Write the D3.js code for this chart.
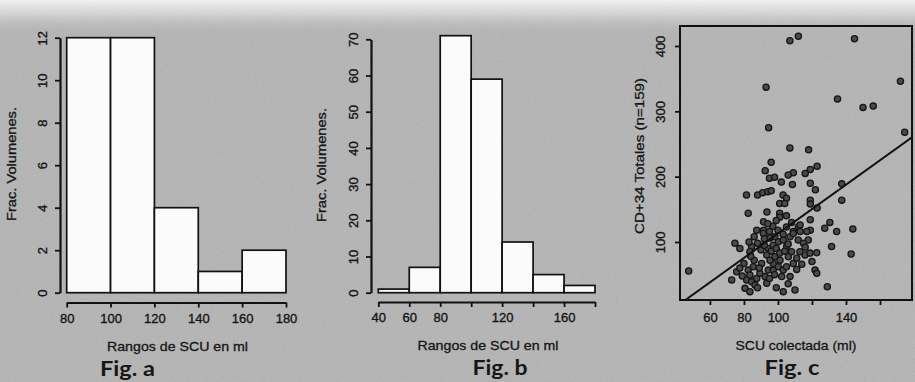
<!DOCTYPE html>
<html><head><meta charset="utf-8">
<script src="https://cdn.jsdelivr.net/npm/d3@7"></script>
<style>html,body{margin:0;padding:0;background:#b3b3b3;overflow:hidden}svg{display:block}</style>
</head><body><svg id="chart" width="915" height="382"></svg>
<script>
// ---------- data ----------
const binsA = [80, 100, 120, 140, 160, 180];
const countsA = [12, 12, 4, 1, 2];
const yTicksA = [0, 2, 4, 6, 8, 10, 12];
const xTicksA = [80, 100, 120, 140, 160, 180];

const binsB = [40, 60, 80, 100, 120, 140, 160, 180];
const countsB = [1, 7, 71, 59, 14, 5, 2];
const yTicksB = [0, 10, 20, 30, 40, 50, 60, 70];
const xTicksB = [40, 60, 80, 100, 120, 140, 160, 180];
const xLabelsB = [40, 60, 80, 120, 160];

const scuVolume = [
  107, 112, 145, 93, 172, 135, 150, 156, 174.5, 94.5, 107, 118, 96, 92.5,
  123, 119, 116, 109, 106, 95, 98, 102, 108.5, 119, 122, 81.5, 88, 91, 94, 96, 103, 105, 119, 137.5, 137.5,
  101, 104, 119, 123, 82.5, 93.5, 101, 101, 91.5, 119, 130.5, 87.5, 91.5, 95, 105, 112, 109, 119, 127.5, 134.5, 113,
  144, 131.5, 143, 129,
  74.7, 77.6, 84.5, 83.5, 72.8, 75.7, 77.6, 82.5, 85.5, 83.5, 81.6, 84.5, 87.5, 80.6, 83.5, 86.5, 89.4, 90.4, 93.4,
  92.4, 94.3, 97.2, 97.2, 95.3, 98.2, 101.2, 100.2, 103.1, 102.2, 107.1, 93.4, 103.1, 110, 94.3, 97.2, 100.2, 103.1,
  98.2, 95.3, 105.1, 108, 106.1, 109, 111, 112.9, 111.9, 107.1, 109, 115.9, 118.8, 122.8, 117.8, 116.9, 121.8, 122.8, 91.4,
  47.5,
  88, 90, 92, 96, 99, 101, 104, 106, 103, 100, 97, 94, 99, 105, 108, 113, 115, 114, 111, 105, 98, 95, 89, 86, 84, 80,
  79, 88, 99, 106, 116, 120, 92, 86, 83
];
const cd34Total = [
  408, 415, 411, 337, 346, 319, 306, 308, 268, 275, 244, 241, 222, 209,
  216, 211, 205, 206, 202.5, 197.5, 199, 192, 188, 190, 180, 172, 172, 175.5, 177, 178.5, 172, 167, 164, 189, 164,
  159, 159, 158, 152, 144, 146, 144, 138, 131, 134, 130, 118, 118, 116, 123, 123, 116, 118, 121, 116, 116,
  120, 93, 81.5, 31.5,
  98, 90, 93, 85, 42, 54.5, 60, 57, 62, 49.5, 42, 39, 44, 29, 24, 34, 52, 67, 80,
  47, 57, 57, 67, 72, 77.5, 72, 62, 57, 47, 47, 37, 24, 26.5, 90, 95, 100.5, 103,
  108, 106, 93, 85, 77.5, 67, 75, 85, 103, 108, 113, 80, 83, 83.6, 103, 116, 57, 52, 113,
  55.6,
  98, 88, 95, 86, 90, 83, 86, 97, 112, 118, 124, 128, 133, 140, 130, 126, 98, 66, 58, 62, 50, 44, 60, 72, 78, 67,
  48, 30, 30, 36, 92, 70, 105, 108, 100
];
const regIntercept = -74;
const regSlope = 1.87;
const yTicksC = [100, 200, 300, 400];
const xTicksC = [60, 80, 100, 120, 140, 160];
const xLabelsC = [60, 80, 100, 140];

const histYTitle = "Frac. Volumenes.";
const histXTitle = "Rangos de SCU en ml";
const scatYTitle = "CD+34 Totales (n=159)";
const scatXTitle = "SCU colectada (ml)";
const figLabels = ["Fig. a", "Fig. b", "Fig. c"];

// ---------- setup ----------
const svg = d3.select("#chart");
const FONT = "'Liberation Sans', Arial, Helvetica, sans-serif";
const FIGFONT = "Lato, 'Open Sans', sans-serif";
const INK = "#151515";
const defs = svg.append("defs");

// scanned-paper background
const grad = defs.append("linearGradient").attr("id", "topband").attr("x1", 0).attr("y1", 0).attr("x2", 0).attr("y2", 1);
grad.append("stop").attr("offset", "0").attr("stop-color", "#f2f2f2").attr("stop-opacity", 1);
grad.append("stop").attr("offset", "0.035").attr("stop-color", "#dcdcdc").attr("stop-opacity", 0.8);
grad.append("stop").attr("offset", "0.09").attr("stop-color", "#b8b8b8").attr("stop-opacity", 0);
grad.append("stop").attr("offset", "1").attr("stop-color", "#b8b8b8").attr("stop-opacity", 0);
const noise = defs.append("filter").attr("id", "noise").attr("x", 0).attr("y", 0).attr("width", "100%").attr("height", "100%");
noise.append("feTurbulence").attr("type", "fractalNoise").attr("baseFrequency", 0.85).attr("numOctaves", 2).attr("seed", 7);
noise.append("feColorMatrix").attr("type", "saturate").attr("values", 0);

svg.append("rect").attr("width", 915).attr("height", 382).attr("fill", "#b4b4b4");
svg.append("rect").attr("width", 915).attr("height", 382).attr("filter", "url(#noise)").attr("opacity", 0.22);
svg.append("rect").attr("width", 915).attr("height", 382).attr("fill", "url(#topband)");

function styleAxis(g, sw) {
  g.selectAll(".domain").attr("stroke", "#111").attr("stroke-width", sw);
  g.selectAll(".tick line").attr("stroke", "#111").attr("stroke-width", 1.8);
  g.selectAll(".tick text").attr("fill", INK).attr("font-family", FONT).attr("font-size", 13)
    .attr("stroke", INK).attr("stroke-width", 0.35);
}
function rotateLabels(g, off) {
  g.selectAll(".tick text")
    .attr("x", 0).attr("y", 0).attr("dy", "0.36em")
    .attr("text-anchor", "middle")
    .attr("transform", `translate(${-off},0) rotate(-90)`);
}
function label(txt, x, y, opts = {}) {
  const t = svg.append("text").text(txt)
    .attr("x", x).attr("y", y)
    .attr("text-anchor", "middle")
    .attr("fill", opts.fill || INK)
    .attr("stroke", opts.weight ? "none" : INK).attr("stroke-width", 0.3)
    .attr("font-family", opts.family || FONT)
    .attr("font-size", opts.size || 13)
    .attr("font-weight", opts.weight || "normal");
  if (opts.len) t.attr("textLength", opts.len).attr("lengthAdjust", "spacingAndGlyphs");
  if (opts.rot) t.attr("transform", `rotate(-90,${x},${y})`);
  return t;
}

// ---------- histogram helper ----------
function histogram(cfg) {
  const x = d3.scaleLinear().domain([cfg.bins[0], cfg.bins[cfg.bins.length - 1]]).range(cfg.xr);
  const y = d3.scaleLinear().domain([cfg.yTicks[0], cfg.yTicks[cfg.yTicks.length - 1]]).range(cfg.yr);
  const data = cfg.counts.map((c, i) => ({ x0: cfg.bins[i], x1: cfg.bins[i + 1], c }));
  svg.append("g").selectAll("rect").data(data).join("rect")
    .attr("x", d => x(d.x0)).attr("width", d => x(d.x1) - x(d.x0))
    .attr("y", d => y(d.c)).attr("height", d => y(0) - y(d.c))
    .attr("fill", "#fbfbfb").attr("stroke", "#111").attr("stroke-width", 1.7);
  const gy = svg.append("g").attr("transform", `translate(${cfg.yAxisX},0)`)
    .call(d3.axisLeft(y).tickValues(cfg.yTicks).tickSize(5).tickSizeOuter(0).tickFormat(d3.format("d")));
  styleAxis(gy, 2.2); rotateLabels(gy, cfg.yLabOff);
  const gx = svg.append("g").attr("transform", `translate(0,${cfg.xAxisY})`)
    .call(d3.axisBottom(x).tickValues(cfg.xTicks).tickSize(5).tickSizeOuter(0)
      .tickFormat(d => (cfg.xLabels || cfg.xTicks).includes(d) ? d : ""));
  styleAxis(gx, 2.2);
  gx.selectAll(".tick text").attr("y", 11).attr("dy", "0.71em");
}

// Fig a
histogram({ bins: binsA, counts: countsA, yTicks: yTicksA, xTicks: xTicksA,
  xr: [66.7, 286], yr: [292.7, 37.7], yAxisX: 60, xAxisY: 302.5, yLabOff: 18 });
label(histYTitle, 16, 164, { rot: true, len: 114, size: 12.5 });
label(histXTitle, 177.5, 351, { len: 141 });
label(figLabels[0], 127.5, 375.5, { family: FIGFONT, weight: "bold", size: 20, len: 55, fill: "#161616" });

// Fig b
histogram({ bins: binsB, counts: countsB, yTicks: yTicksB, xTicks: xTicksB, xLabels: xLabelsB,
  xr: [378.3, 595], yr: [292.7, 39.3], yAxisX: 371, xAxisY: 302, yLabOff: 18 });
label(histYTitle, 326, 165, { rot: true, len: 114, size: 12.5 });
label(histXTitle, 488, 350, { len: 141 });
label(figLabels[1], 500, 375, { family: FIGFONT, weight: "bold", size: 20, len: 55, fill: "#161616" });

// Fig c scatter
const xC = d3.scaleLinear().domain([42.4, 178.8]).range([680, 912]);
const yC = d3.scaleLinear().domain([11.2, 430.6]).range([300, 26]);
defs.append("clipPath").attr("id", "boxc").append("rect")
  .attr("x", xC.range()[0]).attr("y", yC.range()[1])
  .attr("width", xC.range()[1] - xC.range()[0]).attr("height", yC.range()[0] - yC.range()[1]);
const pts = scuVolume.map((v, i) => ({ x: v, y: cd34Total[i] }));
const gc = svg.append("g");
gc.selectAll("circle").data(pts).join("circle")
  .attr("cx", d => xC(d.x)).attr("cy", d => yC(d.y)).attr("r", 3.1)
  .attr("fill", "#4a4a4a").attr("stroke", "#161616").attr("stroke-width", 1.3);
const xd = xC.domain();
gc.append("line").attr("clip-path", "url(#boxc)")
  .attr("x1", xC(xd[0])).attr("y1", yC(regIntercept + regSlope * xd[0]))
  .attr("x2", xC(xd[1])).attr("y2", yC(regIntercept + regSlope * xd[1]))
  .attr("stroke", "#111").attr("stroke-width", 2);
svg.append("rect")
  .attr("x", xC.range()[0]).attr("y", yC.range()[1])
  .attr("width", xC.range()[1] - xC.range()[0]).attr("height", yC.range()[0] - yC.range()[1])
  .attr("fill", "none").attr("stroke", "#111").attr("stroke-width", 2);
const gyc = svg.append("g").attr("transform", `translate(${xC.range()[0]},0)`)
  .call(d3.axisLeft(yC).tickValues(yTicksC).tickSize(5).tickSizeOuter(0));
gyc.select(".domain").remove();
styleAxis(gyc, 2); rotateLabels(gyc, 20);
const gxc = svg.append("g").attr("transform", `translate(0,${yC.range()[0]})`)
  .call(d3.axisBottom(xC).tickValues(xTicksC).tickSize(5).tickSizeOuter(0)
    .tickFormat(d => xLabelsC.includes(d) ? d : ""));
gxc.select(".domain").remove();
styleAxis(gxc, 2);
gxc.selectAll(".tick text").attr("y", 13).attr("dy", "0.71em");
label(scatYTitle, 644, 156, { rot: true, len: 156, size: 12.5 });
label(scatXTitle, 796, 350, { len: 121 });
label(figLabels[2], 792, 375, { family: FIGFONT, weight: "bold", size: 20, len: 55, fill: "#161616" });
</script>
</body></html>
